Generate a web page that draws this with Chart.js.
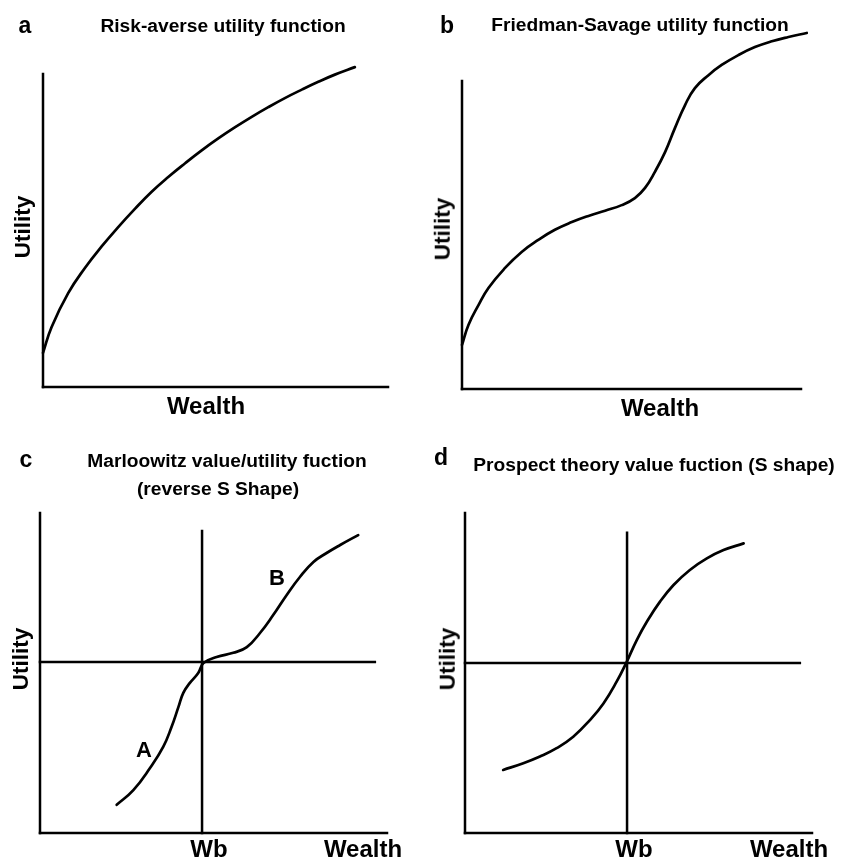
<!DOCTYPE html>
<html>
<head>
<meta charset="utf-8">
<script src="https://cdn.jsdelivr.net/npm/chart.js@4.4.1/dist/chart.umd.min.js"></script>
<style>
  html, body { margin: 0; padding: 0; background: #fff; }
  #page { position: relative; width: 844px; height: 862px; overflow: hidden; font-family: "Liberation Sans", Arial, sans-serif; color: #000; }
  .panel { position: absolute; width: 422px; height: 431px; }
  .txt { position: absolute; transform: translate(-50%, -50%); white-space: nowrap; line-height: 1; }
  .tag { font-weight: bold; font-size: 23px; }
  .title { font-size: 19.2px; font-weight: bold; }
  .axis { font-size: 24px; font-weight: bold; }
  .util { font-size: 22.5px; font-weight: bold; transform: translate(-50%, -50%) rotate(-90deg); }
  .mark { font-size: 22px; font-weight: bold; }
</style>
</head>
<body>
<div id="page">
  <div class="panel" style="left:0;top:0"><canvas id="chartA"></canvas></div>
  <div class="panel" style="left:422px;top:0"><canvas id="chartB"></canvas></div>
  <div class="panel" style="left:0;top:431px"><canvas id="chartC"></canvas></div>
  <div class="panel" style="left:422px;top:431px"><canvas id="chartD"></canvas></div>

  <div class="txt tag" style="left:25px;top:25px">a</div>
  <div class="txt title" style="left:223px;top:26px">Risk-averse utility function</div>
  <div class="txt axis" style="left:206px;top:406px">Wealth</div>
  <div class="txt util" style="left:23px;top:227px">Utility</div>

  <div class="txt tag" style="left:447px;top:25px">b</div>
  <div class="txt title" style="left:640px;top:25px">Friedman-Savage utility function</div>
  <div class="txt axis" style="left:660px;top:408px">Wealth</div>
  <div class="txt util" style="left:443px;top:229px">Utility</div>

  <div class="txt tag" style="left:26px;top:459px">c</div>
  <div class="txt title" style="left:227px;top:461px">Marloowitz value/utility fuction</div>
  <div class="txt title" style="left:218px;top:489px">(reverse S Shape)</div>
  <div class="txt mark" style="left:144px;top:750px">A</div>
  <div class="txt mark" style="left:277px;top:578px">B</div>
  <div class="txt axis" style="left:209px;top:849px">Wb</div>
  <div class="txt axis" style="left:363px;top:849px">Wealth</div>
  <div class="txt util" style="left:21px;top:659px">Utility</div>

  <div class="txt tag" style="left:441px;top:457px">d</div>
  <div class="txt title" style="left:654px;top:465px">Prospect theory value fuction (S shape)</div>
  <div class="txt axis" style="left:634px;top:849px">Wb</div>
  <div class="txt axis" style="left:789px;top:849px">Wealth</div>
  <div class="txt util" style="left:448px;top:659px">Utility</div>
</div>
<script>
// wealth runs 0..100 along the x axis, utility 0..100 up the y axis

// a: risk-averse curve
const wealthA  = [0, 2.5, 7.3, 12.2, 17.0, 21.8, 26.7, 31.5, 36.3, 41.2, 46.0, 50.8, 55.7, 60.5, 65.3, 70.1, 75.0, 79.8, 84.6, 90.4];
const utilityA = [10.9, 19.2, 30.0, 38.1, 44.9, 51.1, 57.0, 62.4, 67.1, 71.5, 75.6, 79.4, 83.0, 86.3, 89.4, 92.3, 95.0, 97.5, 99.8, 102.2];

// b: Friedman-Savage
const wealthB  = [0, 1.9, 4.9, 7.8, 12.7, 17.6, 22.5, 27.4, 32.4, 37.3, 42.2, 47.1, 51.0, 54.0, 56.9, 59.9, 62.8, 65.8, 68.7, 72.7, 76.6, 81.5, 86.4, 91.4, 96.3, 101.7];
const utilityB = [14.3, 20.8, 27.3, 32.8, 39.3, 44.5, 48.4, 51.7, 54.2, 56.2, 57.9, 59.7, 62.0, 65.3, 70.5, 76.9, 84.7, 92.2, 97.7, 101.9, 105.2, 108.4, 111.0, 112.9, 114.3, 115.6];

// c: Markowitz reverse S
const wealthC  = [22.1, 26.9, 31.7, 35.5, 37.9, 39.9, 41.3, 43.2, 45.6, 47.1, 50.9, 55.7, 59.6, 63.4, 67.2, 71.1, 74.9, 78.8, 82.6, 86.5, 91.7];
const utilityC = [8.8, 13.4, 20.3, 26.9, 33.1, 39.4, 43.8, 46.9, 50.0, 53.1, 55.0, 56.3, 58.1, 62.5, 68.1, 74.4, 80.0, 84.7, 87.5, 90.0, 93.1];

// d: prospect theory S
const wealthD  = [11.0, 16.8, 21.6, 26.4, 31.2, 36.0, 39.9, 43.7, 46.6, 49.5, 52.4, 56.2, 60.1, 64.8, 69.7, 74.5, 80.3];
const utilityD = [19.7, 21.8, 23.9, 26.5, 30.1, 35.3, 40.5, 47.3, 53.5, 60.3, 66.0, 72.3, 77.5, 82.2, 85.8, 88.4, 90.5];

// reference wealth Wb and its utility, for panels c and d
const wbC = 46.7, u0C = 53.4;
const wbD = 46.7, u0D = 53.1;

const axisLinesPlugin = {
    id: 'axisLines',
    beforeDatasetsDraw(chart, args, opts) {
        const ctx = chart.ctx;
        const xs = chart.scales.x, ys = chart.scales.y;
        ctx.save();
        ctx.strokeStyle = '#000';
        ctx.lineWidth = 2.5;
        ctx.lineCap = 'square';
        (opts.segments || []).forEach(s => {
            ctx.beginPath();
            ctx.moveTo(xs.getPixelForValue(s[0]), ys.getPixelForValue(s[1]));
            ctx.lineTo(xs.getPixelForValue(s[2]), ys.getPixelForValue(s[3]));
            ctx.stroke();
        });
        ctx.restore();
    }
};

function makeChart(id, wealth, utility, padding, segments) {
    const ctx = document.getElementById(id).getContext('2d');
    return new Chart(ctx, {
        type: 'line',
        data: {
            datasets: [{
                data: wealth.map((w, i) => ({ x: w, y: utility[i] })),
                borderColor: '#000',
                borderWidth: 2.7,
                borderCapStyle: 'round',
                borderJoinStyle: 'round',
                pointRadius: 0,
                fill: false,
                tension: 0.45,
                clip: false
            }]
        },
        options: {
            responsive: true,
            maintainAspectRatio: false,
            animation: false,
            layout: { padding: padding },
            scales: {
                x: { type: 'linear', min: 0, max: 100, display: false },
                y: { type: 'linear', min: 0, max: 100, display: false }
            },
            plugins: {
                legend: { display: false },
                tooltip: { enabled: false },
                axisLines: { segments: segments }
            }
        },
        plugins: [axisLinesPlugin]
    });
}

makeChart('chartA', wealthA, utilityA, { left: 43, right: 34, top: 74, bottom: 44 },
    [[0, 0, 0, 100], [0, 0, 100, 0]]);
makeChart('chartB', wealthB, utilityB, { left: 40, right: 43, top: 81, bottom: 42 },
    [[0, 0, 0, 100], [0, 0, 100, 0]]);
makeChart('chartC', wealthC, utilityC, { left: 40, right: 35, top: 82, bottom: 29 },
    [[0, 0, 0, 100], [0, 0, 100, 0], [wbC, 0, wbC, 94.4], [0, u0C, 96.5, u0C]]);
makeChart('chartD', wealthD, utilityD, { left: 43, right: 32, top: 82, bottom: 29 },
    [[0, 0, 0, 100], [0, 0, 100, 0], [wbD, 0, wbD, 93.8], [0, u0D, 96.5, u0D]]);
</script>
</body>
</html>
